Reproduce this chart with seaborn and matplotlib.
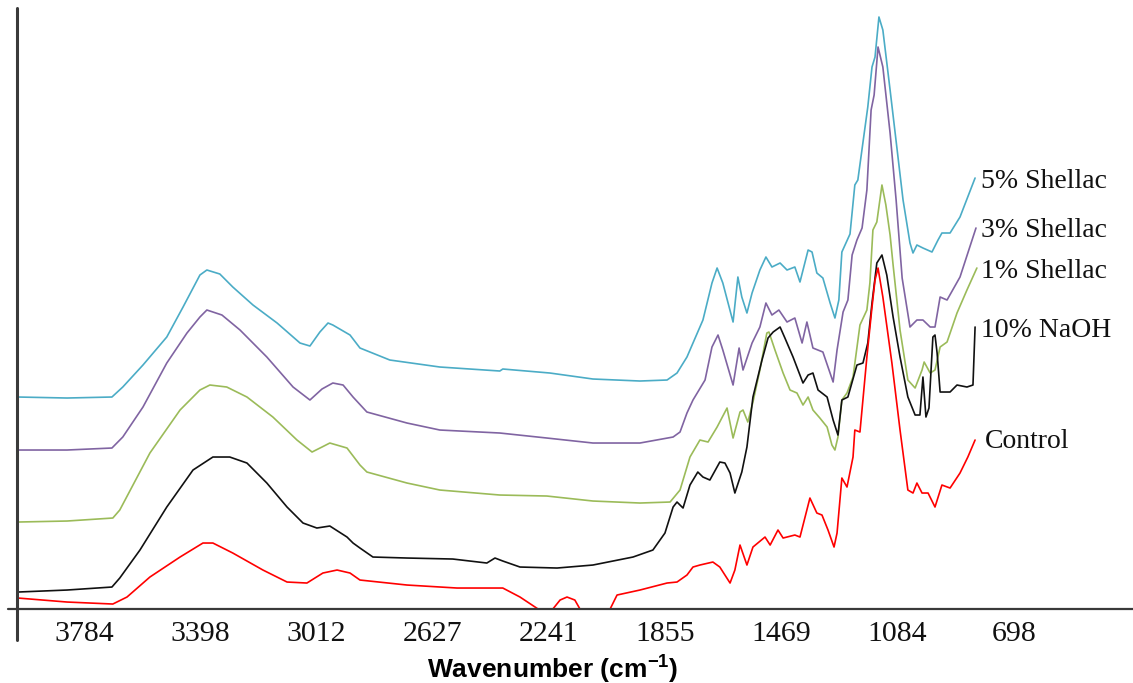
import numpy as np
import pandas as pd
import seaborn as sns
import matplotlib.pyplot as plt

# FTIR spectra, wavenumber (cm-1) vs offset absorbance (arb. units)
shellac5_x = [4003, 3840, 3691, 3655, 3588, 3509, 3455, 3399, 3376, 3333, 3290, 3223, 3143, 3067, 3034, 3001,
              2974, 2958, 2901, 2868, 2769, 2603, 2404, 2394, 2238, 2095, 1939, 1849, 1816, 1783, 1763, 1730,
              1700, 1683, 1664, 1630, 1614, 1601, 1584, 1567, 1541, 1521, 1501, 1474, 1451, 1425, 1408, 1381,
              1368, 1352, 1332, 1308, 1292, 1279, 1269, 1242, 1226, 1216, 1183, 1169, 1159, 1146, 1133, 1109,
              1066, 1043, 1033, 1020, 1000, 970, 950, 937, 910, 877, 827]
shellac5_y = [2.12, 2.11, 2.12, 2.22, 2.44, 2.72, 3.02, 3.34, 3.39, 3.35, 3.22, 3.04, 2.86, 2.66, 2.63, 2.77,
              2.86, 2.84, 2.74, 2.61, 2.49, 2.42, 2.38, 2.40, 2.36, 2.30, 2.28, 2.29, 2.36, 2.52, 2.66, 2.89,
              3.26, 3.41, 3.26, 2.87, 3.32, 3.12, 2.96, 3.16, 3.39, 3.52, 3.42, 3.46, 3.39, 3.42, 3.27, 3.59,
              3.57, 3.36, 3.31, 3.06, 2.91, 3.09, 3.57, 3.75, 4.24, 4.29, 5.02, 5.42, 5.52, 5.92, 5.79, 5.19,
              4.09, 3.66, 3.56, 3.64, 3.61, 3.57, 3.69, 3.76, 3.76, 3.92, 4.31]

shellac3_x = [4003, 3840, 3691, 3655, 3588, 3509, 3442, 3399, 3376, 3326, 3266, 3177, 3090, 3034, 2994, 2958,
              2924, 2891, 2845, 2712, 2603, 2404, 2248, 2095, 1939, 1829, 1806, 1783, 1763, 1723, 1700, 1680,
              1664, 1630, 1610, 1597, 1567, 1541, 1521, 1501, 1478, 1451, 1425, 1401, 1385, 1365, 1332, 1298,
              1285, 1265, 1249, 1235, 1219, 1202, 1186, 1172, 1162, 1149, 1133, 1109, 1089, 1069, 1043, 1020,
              1000, 976, 960, 943, 920, 877, 824]
shellac3_y = [1.59, 1.59, 1.61, 1.72, 2.02, 2.46, 2.76, 2.92, 2.99, 2.94, 2.79, 2.52, 2.22, 2.09, 2.20, 2.26,
              2.24, 2.12, 1.97, 1.86, 1.79, 1.76, 1.71, 1.66, 1.66, 1.72, 1.77, 1.96, 2.09, 2.29, 2.62, 2.74,
              2.59, 2.24, 2.61, 2.39, 2.66, 2.82, 3.06, 2.94, 2.99, 2.87, 2.91, 2.66, 2.87, 2.61, 2.57, 2.27,
              2.59, 2.97, 3.09, 3.54, 3.69, 3.81, 4.19, 4.99, 5.14, 5.62, 5.42, 4.76, 4.09, 3.31, 2.82, 2.89,
              2.89, 2.82, 2.82, 3.12, 3.09, 3.32, 3.81]

shellac1_x = [4003, 3840, 3688, 3665, 3565, 3465, 3399, 3366, 3310, 3243, 3157, 3077, 3027, 2994, 2968, 2911,
              2868, 2845, 2712, 2603, 2404, 2248, 2095, 1939, 1839, 1806, 1773, 1740, 1713, 1683, 1650, 1630,
              1607, 1597, 1581, 1564, 1541, 1518, 1511, 1491, 1464, 1441, 1418, 1398, 1381, 1365, 1342, 1318,
              1302, 1292, 1282, 1269, 1252, 1232, 1209, 1186, 1176, 1166, 1153, 1136, 1123, 1109, 1099, 1076,
              1050, 1026, 1003, 996, 976, 960, 943, 920, 887, 854, 821]
shellac1_y = [0.87, 0.88, 0.91, 0.99, 1.56, 1.99, 2.19, 2.24, 2.22, 2.12, 1.92, 1.69, 1.57, 1.62, 1.66, 1.61,
              1.44, 1.37, 1.26, 1.19, 1.14, 1.13, 1.08, 1.06, 1.07, 1.19, 1.52, 1.69, 1.67, 1.82, 2.01, 1.71,
              1.97, 1.99, 1.87, 2.07, 2.39, 2.76, 2.77, 2.59, 2.36, 2.19, 2.16, 2.04, 2.12, 1.99, 1.91, 1.82,
              1.64, 1.59, 1.72, 2.09, 2.16, 2.32, 2.84, 2.99, 3.26, 3.79, 3.87, 4.24, 4.04, 3.74, 3.44, 2.79,
              2.29, 2.21, 2.39, 2.47, 2.36, 2.39, 2.62, 2.67, 2.96, 3.19, 3.41]

naoh_x = [4003, 3840, 3691, 3665, 3598, 3509, 3422, 3356, 3300, 3243, 3177, 3110, 3057, 3011, 2968, 2911,
          2891, 2868, 2825, 2712, 2560, 2447, 2420, 2394, 2337, 2214, 2095, 1962, 1896, 1856, 1829, 1816,
          1796, 1773, 1747, 1730, 1707, 1674, 1657, 1640, 1624, 1601, 1584, 1564, 1534, 1514, 1497, 1474,
          1458, 1431, 1398, 1381, 1365, 1348, 1318, 1298, 1282, 1269, 1249, 1219, 1199, 1183, 1169, 1153,
          1136, 1120, 1099, 1076, 1050, 1026, 1010, 1000, 990, 980, 967, 960, 953, 943, 910, 887,
          854, 834, 827]
naoh_y = [0.17, 0.19, 0.22, 0.31, 0.59, 1.02, 1.39, 1.52, 1.52, 1.46, 1.26, 1.02, 0.86, 0.81, 0.83, 0.72,
          0.66, 0.61, 0.52, 0.51, 0.50, 0.46, 0.51, 0.48, 0.42, 0.41, 0.44, 0.52, 0.59, 0.76, 1.02, 1.07,
          1.01, 1.24, 1.37, 1.32, 1.29, 1.47, 1.46, 1.36, 1.16, 1.37, 1.62, 2.12, 2.49, 2.71, 2.77, 2.82,
          2.71, 2.52, 2.26, 2.34, 2.36, 2.19, 2.12, 1.89, 1.74, 2.09, 2.12, 2.44, 2.46, 2.66, 3.06, 3.46,
          3.54, 3.34, 2.92, 2.52, 2.12, 1.94, 1.94, 2.32, 1.92, 2.01, 2.72, 2.74, 2.56, 2.17, 2.17, 2.24,
          2.22, 2.24, 2.82]

control_x = [4003, 3840, 3688, 3641, 3565, 3465, 3389, 3356, 3290, 3190, 3110, 3044, 2991, 2944, 2901, 2868,
             2712, 2546, 2394, 2337, 2277, 2254, 2228, 2204, 2181, 2155, 2138, 2098, 2038, 2015, 1939, 1849,
             1816, 1783, 1763, 1740, 1697, 1674, 1640, 1624, 1607, 1584, 1564, 1524, 1507, 1481, 1464, 1425,
             1408, 1375, 1352, 1335, 1315, 1295, 1285, 1269, 1252, 1232, 1226, 1209, 1186, 1169, 1159, 1149,
             1133, 1103, 1076, 1050, 1033, 1020, 1003, 983, 960, 937, 910, 877, 851, 827]
control_y = [0.11, 0.07, 0.05, 0.12, 0.32, 0.52, 0.66, 0.66, 0.56, 0.39, 0.27, 0.26, 0.36, 0.39, 0.36, 0.29,
             0.24, 0.21, 0.21, 0.12, 0.00, -0.06, 0.00, 0.09, 0.12, 0.09, 0.00, -0.07, 0.00, 0.14, 0.19, 0.26,
             0.27, 0.34, 0.42, 0.44, 0.47, 0.42, 0.26, 0.39, 0.64, 0.44, 0.62, 0.72, 0.64, 0.79, 0.71, 0.74,
             0.72, 1.11, 0.96, 0.94, 0.79, 0.62, 0.76, 1.31, 1.22, 1.52, 1.79, 1.77, 2.52, 3.02, 3.29, 3.41,
             3.12, 2.46, 1.79, 1.19, 1.16, 1.26, 1.16, 1.16, 1.02, 1.24, 1.21, 1.36, 1.52, 1.69]

tick_values = [3784, 3398, 3012, 2627, 2241, 1855, 1469, 1084, 698]

series = [
    ('5% Shellac', shellac5_x, shellac5_y, '#4BACC6', 4.21),
    ('3% Shellac', shellac3_x, shellac3_y, '#8064A2', 3.72),
    ('1% Shellac', shellac1_x, shellac1_y, '#9BBB59', 3.31),
    ('10% NaOH', naoh_x, naoh_y, '#111111', 2.72),
    ('Control', control_x, control_y, '#FF0000', 1.61),
]

sns.set_style('white')
plt.rcParams['font.family'] = ['Liberation Serif', 'DejaVu Serif']
plt.rcParams['mathtext.fontset'] = 'custom'
plt.rcParams['mathtext.rm'] = 'Liberation Sans:bold'

fig = plt.figure(figsize=(11.33, 6.83), dpi=100)
ax = fig.add_axes([0.015, 0.1083, 0.985, 0.88])

for name, xs, ys, color, label_y in series:
    df = pd.DataFrame({'wavenumber': xs, 'absorbance': ys})
    sns.lineplot(data=df, x='wavenumber', y='absorbance', color=color, linewidth=1.2,
                 estimator=None, sort=False, ax=ax)
    label_x = 794 if name == 'Control' else 807
    ax.text(label_x, label_y, name, fontsize=20, color='#111111', ha='left', va='baseline')

ax.set_xlim(4006, 303)
ax.set_ylim(0, 6.01)
for sp in ax.spines.values():
    sp.set_visible(False)

# axis lines: x axis pokes out left, y axis runs below the x axis
ax.axhline(0, xmin=-0.008, xmax=1, color='#3a3a3a', linewidth=1.6, clip_on=False)
ax.axvline(4006, ymin=-0.052, ymax=1, color='#3a3a3a', linewidth=2.2, clip_on=False)

ax.set_xticks(tick_values)
ax.set_xticklabels([str(t) for t in tick_values], fontsize=21.5, color='#111111')
ax.set_yticks([])
ax.tick_params(axis='x', length=0, pad=8.5)
ax.set_ylabel('')
ax.set_xlabel(r'Wavenumber (cm$^{\mathrm{-1}}$)', fontsize=19, fontweight='bold',
              family='Liberation Sans', color='#000000')
ax.xaxis.set_label_coords(0.480, -0.071)

fig.savefig('out.png', dpi=100)
